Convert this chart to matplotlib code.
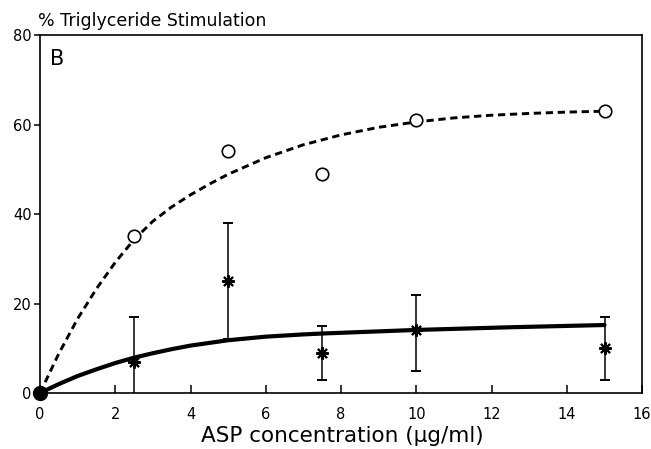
import numpy as np
import matplotlib
matplotlib.use("Agg")
import matplotlib.pyplot as plt

plt.rcParams["font.family"] = ["DejaVu Sans"]

# measured points
conc = [2.5, 5, 7.5, 10, 15]
tg_open = [35, 54, 49, 61, 63]           # open circles
tg_star = [7, 25, 9, 14, 10]             # asterisks
err_low = [10, 13, 6, 9, 7]
err_high = [10, 13, 6, 8, 7]

# fitted curves
fit_x_dash = [0, 0.5, 1, 1.5, 2, 2.5, 3, 3.5, 4, 4.5, 5, 6, 7, 8, 9, 10, 11, 12, 13, 14, 15]
fit_y_dash = [0, 8.8, 16.6, 23.3, 29.2, 34.3, 38.4, 41.6, 44.3, 46.7, 48.9, 52.6, 55.5,
              57.7, 59.4, 60.6, 61.5, 62.1, 62.5, 62.8, 63]
fit_x_solid = [0, 0.5, 1, 1.5, 2, 2.5, 3, 3.5, 4, 4.5, 5, 6, 7, 7.5, 10, 12.5, 15]
fit_y_solid = [0, 2, 3.8, 5.3, 6.7, 7.9, 8.9, 9.8, 10.6, 11.2, 11.8, 12.6, 13.1, 13.3,
               14.1, 14.7, 15.2]

fig = plt.figure(figsize=(6.51, 4.49), dpi=100)
ax = fig.add_axes([0.0614, 0.1247, 0.925, 0.797])

ax.plot(fit_x_dash, fit_y_dash, color="black", lw=2.1, linestyle=(0, (2.5, 1.6)))
ax.plot(fit_x_solid, fit_y_solid, color="black", lw=3.0, solid_capstyle="round")

ax.plot(conc, tg_open, linestyle="none", marker="o", ms=9, mfc="white",
        mec="black", mew=1.2, zorder=5)
ax.errorbar(conc, tg_star, yerr=[err_low, err_high], fmt="none", ecolor="black",
            elinewidth=1.1, capsize=3.5, capthick=1.4, zorder=4)
ax.plot(conc, tg_star, linestyle="none", marker=(8, 2, 0), ms=9, mec="black",
        mew=1.5, zorder=6)
ax.plot([0], [0], linestyle="none", marker="o", ms=10, color="black",
        clip_on=False, zorder=7)

ax.set_xlim(0, 16)
ax.set_ylim(0, 80)
ax.set_xticks(range(0, 17, 2))
ax.set_yticks([0, 20, 40, 60, 80])
ax.tick_params(axis="x", direction="in", length=6, width=1.1, labelsize=10.5, pad=10)
ax.tick_params(axis="y", direction="out", length=4, width=1.1, labelsize=10.5, pad=2)
for s in ax.spines.values():
    s.set_linewidth(1.2)

ax.set_xlabel("ASP concentration (\u00b5g/ml)", fontsize=15.5, va="baseline")
ax.xaxis.set_label_coords(0.502, -0.136)
fig.text(0.058, 0.942, "% Triglyceride Stimulation", fontsize=12.5, ha="left", va="baseline")
ax.text(0.27, 77, "B", fontsize=15, ha="left", va="top")

fig.savefig("out.png", dpi=100)
